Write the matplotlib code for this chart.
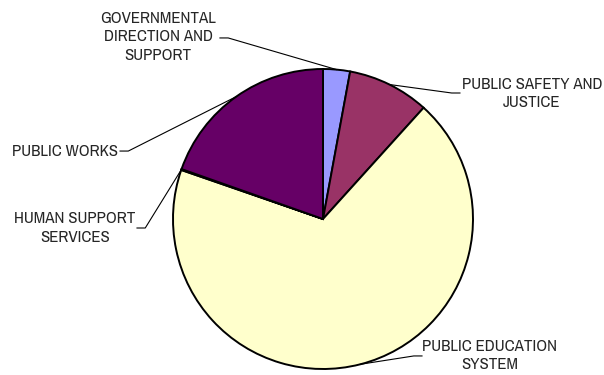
import numpy as np
import matplotlib
matplotlib.use("Agg")
from matplotlib import pyplot as plt

# spending by program area (share of total, %)
programs = ["GOVERNMENTAL\nDIRECTION AND\nSUPPORT",
            "PUBLIC SAFETY AND\nJUSTICE",
            "PUBLIC EDUCATION\nSYSTEM",
            "HUMAN SUPPORT\nSERVICES",
            "PUBLIC WORKS"]
shares = [2.9, 8.8, 68.6, 0.1, 19.6]
colours = ["#9999FF", "#993366", "#FFFFCC", "#CCFFFF", "#660066"]

# label anchor (data units, pie radius = 1), alignment, and leader start
label_xy = [(-1.10, 1.215), (1.393, 0.837), (1.113, -0.91), (-1.653, -0.06), (-1.367, 0.453)]
label_ha = ["center", "center", "center", "center", "right"]
elbow_xy = [(-0.687, 1.207), (0.913, 0.84), (0.66, -0.913), (-1.24, -0.06), (-1.353, 0.453)]
elbow_dir = [1, -1, -1, 1, 1]

plt.rcParams['font.family'] = ['Archivo Narrow', 'Liberation Sans', 'DejaVu Sans']

fig = plt.figure(figsize=(6.04, 3.75), dpi=100)
ax = fig.add_axes([0, 0, 1, 1])

wedges, _ = ax.pie(shares, colors=colours, startangle=90, counterclock=False,
                   radius=1.0, center=(0, 0), frame=True,
                   wedgeprops=dict(edgecolor="black", linewidth=1.4))
# 150 px per unit, pie centre at (323, 219) px from top-left
ax.set_xlim(-323 / 150, (604 - 323) / 150)
ax.set_ylim(-(375 - 219) / 150, 219 / 150)
ax.axis("off")

for i, w in enumerate(wedges):
    mid = np.deg2rad((w.theta1 + w.theta2) / 2)
    px, py = np.cos(mid), np.sin(mid)
    tx, ty = label_xy[i]
    ex, ey = elbow_xy[i]
    ax.text(tx, ty, programs[i], ha=label_ha[i], va="center", fontsize=12.2,
            color="#262626", linespacing=1.28)
    # short flat tick next to the text, then straight to the slice edge
    kx = ex + 0.055 * elbow_dir[i]
    ax.plot([ex, kx, px], [ey, ey, py], color="black", lw=0.8)

fig.savefig("out.png", dpi=100)
